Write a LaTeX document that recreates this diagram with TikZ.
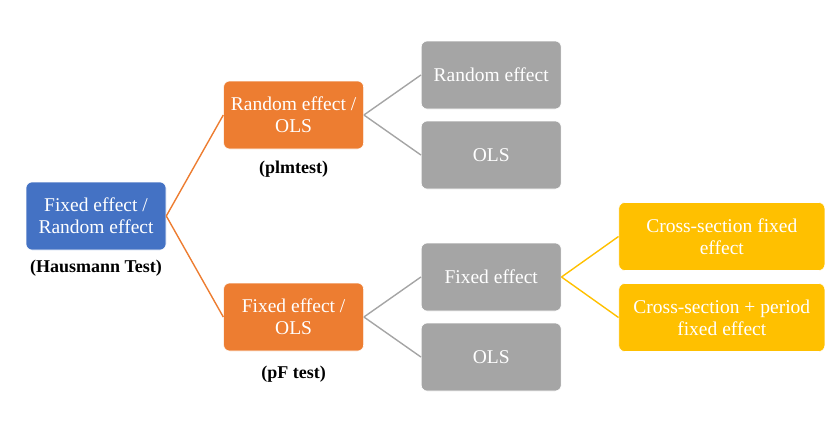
\documentclass[tikz,border=0pt]{standalone}
\usepackage{fontspec}
\setmainfont{Liberation Serif}
\usepackage{xcolor}
\usetikzlibrary{positioning}

\definecolor{hblue}{HTML}{4472C4}
\definecolor{horange}{HTML}{ED7D31}
\definecolor{hgray}{HTML}{A5A5A5}
\definecolor{hgold}{HTML}{FFC000}

\begin{document}
\begin{tikzpicture}[x=1pt, y=-1pt,
    box/.style={rectangle, rounded corners=6pt, draw=white, line width=0.6pt, text=white, align=center,
        minimum width=140pt, minimum height=68pt, inner sep=2pt,
        font=\fontsize{19.5}{22}\selectfont},
    testlabel/.style={inner sep=0pt, font=\fontsize{18}{21}\selectfont\bfseries},
    link/.style={line width=1.4pt}]
    \useasboundingbox (0,0) rectangle (830,434);

    % Nodes
    \node[box, fill=hblue] (fere) at (96,216) {Fixed effect /\\Random effect};
    \node[box, fill=horange, right=57pt of fere, yshift=101pt] (reols) {Random effect /\\OLS};
    \node[box, fill=horange, right=57pt of fere, yshift=-101pt] (feols) {Fixed effect /\\OLS};
    \node[box, fill=hgray, right=57pt of reols, yshift=40pt] (re) {Random effect};
    \node[box, fill=hgray, right=57pt of reols, yshift=-40pt] (olsa) {OLS};
    \node[box, fill=hgray, right=57pt of feols, yshift=40pt] (fe) {Fixed effect};
    \node[box, fill=hgray, right=57pt of feols, yshift=-40pt] (olsb) {OLS};
    \node[box, fill=hgold, minimum width=206pt, right=57pt of fe, yshift=40.5pt] (csfe) {Cross-section fixed\\effect};
    \node[box, fill=hgold, minimum width=206pt, right=57pt of fe, yshift=-40.5pt] (cspfe) {Cross-section + period\\fixed effect};

    % Labels
    \node[testlabel, below=10pt of fere] (haus) {(Hausmann Test)};
    \node[testlabel, below=12pt of reols] (plm) {(plmtest)};
    \node[testlabel, below=15pt of feols] (pf) {(pF test)};

    % Edges
    \draw[link, horange] (fere.east) -- (reols.west);
    \draw[link, horange] (fere.east) -- (feols.west);
    \draw[link, hgray] (reols.east) -- (re.west);
    \draw[link, hgray] (reols.east) -- (olsa.west);
    \draw[link, hgray] (feols.east) -- (fe.west);
    \draw[link, hgray] (feols.east) -- (olsb.west);
    \draw[link, hgold] (fe.east) -- (csfe.west);
    \draw[link, hgold] (fe.east) -- (cspfe.west);
\end{tikzpicture}
\end{document}
